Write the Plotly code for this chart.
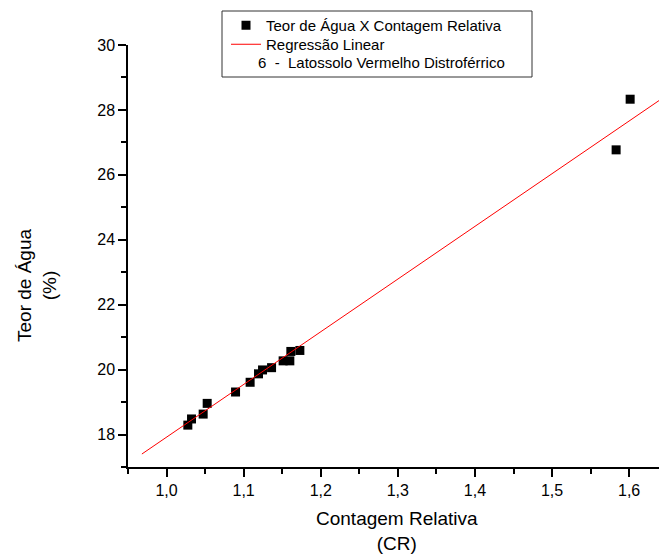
import plotly.graph_objects as go

# ---- data ----
cr_values = [1.0276, 1.0324, 1.0475, 1.0527, 1.0895, 1.1084, 1.1193, 1.1245,
             1.1362, 1.1512, 1.1599, 1.1612, 1.1729, 1.5831, 1.6013]
teor_values = [18.29, 18.48, 18.63, 18.96, 19.31, 19.61, 19.87, 19.99,
               20.06, 20.27, 20.27, 20.56, 20.59, 26.77, 28.33]

# regression line end points
reg_x = [0.968, 1.645]
reg_y = [17.40, 28.39]

x_tickvals = [1.0, 1.1, 1.2, 1.3, 1.4, 1.5, 1.6]
x_ticktext = ["1,0", "1,1", "1,2", "1,3", "1,4", "1,5", "1,6"]
y_tickvals = [18, 20, 22, 24, 26, 28, 30]
y_ticktext = ["18", "20", "22", "24", "26", "28", "30"]

legend_names = ["Teor de Água X Contagem Relativa", "Regressão Linear"]
legend_note = "6\u00a0\u00a0-\u00a0\u00a0Latossolo Vermelho Distroférrico"
x_title = "Contagem Relativa<br>(CR)"
y_title = "Teor de Água<br>(%)"

FONT = "Liberation Sans, Arial, sans-serif"

W, H = 659, 556
L, R, T, B = 128, 0, 45, 89
PW, PH = W - L - R, H - T - B


def px_x(p):
    return (p - L) / PW


def px_y(p):
    return 1 - (p - T) / PH


fig = go.Figure()
fig.add_trace(go.Scatter(
    x=cr_values, y=teor_values, mode="markers", name=legend_names[0],
    marker=dict(symbol="square", size=9, color="black", line=dict(width=0)),
    legend="legend",
))
fig.add_trace(go.Scatter(
    x=reg_x, y=reg_y, mode="lines", name=legend_names[1],
    line=dict(color="#ff0000", width=1),
    legend="legend2",
))

axis_common = dict(
    showgrid=False, zeroline=False, showline=True, linecolor="black",
    linewidth=1.5, ticks="outside", ticklen=8, tickwidth=1.5, tickcolor="black",
    tickfont=dict(family=FONT, size=16, color="black"),
)

fig.update_xaxes(
    range=[0.95, 0.95 + PW / 771.0],
    tickmode="array", tickvals=x_tickvals, ticktext=x_ticktext,
    minor=dict(dtick=0.05, tick0=0.95, ticks="outside", ticklen=5,
               tickwidth=1.5, tickcolor="black"),
    **axis_common,
)
fig.update_yaxes(
    range=[17, 30],
    tickmode="array", tickvals=y_tickvals, ticktext=y_ticktext,
    minor=dict(dtick=1, tick0=17, ticks="outside", ticklen=5,
               tickwidth=1.5, tickcolor="black"),
    **axis_common,
)

legend_common = dict(
    xanchor="left", yanchor="top",
    bgcolor="rgba(0,0,0,0)", borderwidth=0,
    font=dict(family=FONT, size=15, color="black"),
)

fig.update_layout(
    width=W, height=H,
    margin=dict(l=L, r=R, t=T, b=B, pad=0),
    paper_bgcolor="white", plot_bgcolor="white",
    font=dict(family=FONT, color="black"),
    showlegend=True,
    legend=dict(x=px_x(226), y=px_y(9), **legend_common),
    legend2=dict(x=px_x(226), y=px_y(28), **legend_common),
    shapes=[dict(
        type="rect", xref="paper", yref="paper",
        x0=px_x(222), x1=px_x(532), y0=px_y(77), y1=px_y(11),
        line=dict(color="#333333", width=1), fillcolor="rgba(0,0,0,0)",
        layer="above",
    )],
    annotations=[
        dict(text=legend_note, xref="paper", yref="paper",
             x=px_x(256), y=px_y(62.5), xanchor="left", yanchor="middle",
             showarrow=False, font=dict(family=FONT, size=15, color="black")),
        dict(text=x_title, xref="paper", yref="paper",
             x=px_x(397), y=px_y(531), xanchor="center", yanchor="middle",
             showarrow=False, font=dict(family=FONT, size=19, color="black")),
        dict(text=y_title, xref="paper", yref="paper",
             x=px_x(37), y=px_y(286), xanchor="center", yanchor="middle",
             textangle=-90, showarrow=False,
             font=dict(family=FONT, size=19, color="black")),
    ],
)

fig.write_html("out.html")
